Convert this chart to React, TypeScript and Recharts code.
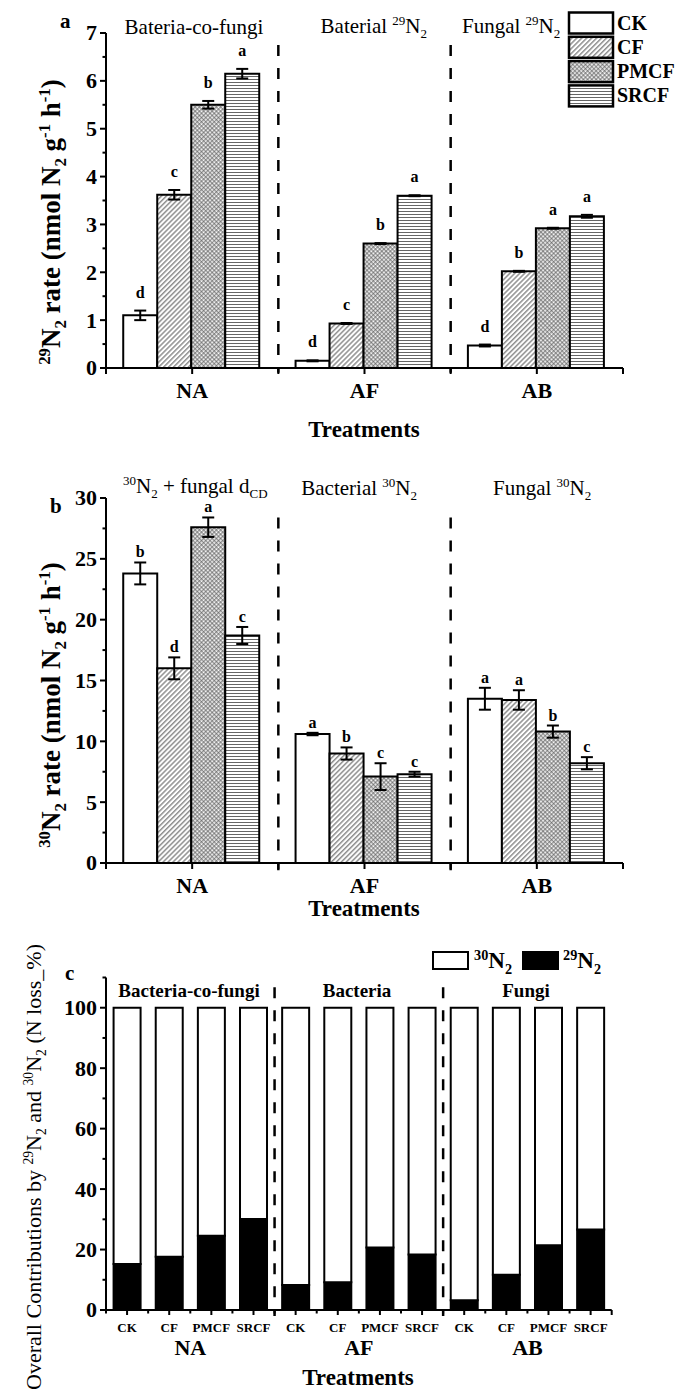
import React from 'react';
import { BarChart, Bar, XAxis, YAxis, ErrorBar, LabelList, ReferenceLine } from 'recharts';

const FONT = '"Liberation Serif", "Times New Roman", serif';

const groups = ['NA', 'AF', 'AB'];
const treatments = ['CK', 'CF', 'PMCF', 'SRCF'];

// Panel a: 29N2 rate
const aCK = [1.1, 0.15, 0.47];
const aCF = [3.62, 0.93, 2.02];
const aPMCF = [5.5, 2.6, 2.92];
const aSRCF = [6.15, 3.6, 3.17];
const aErrCK = [0.1, 0.01, 0.02];
const aErrCF = [0.1, 0.01, 0.01];
const aErrPMCF = [0.08, 0.01, 0.01];
const aErrSRCF = [0.1, 0.01, 0.03];
const aLetCK = ['d', 'd', 'd'];
const aLetCF = ['c', 'c', 'b'];
const aLetPMCF = ['b', 'b', 'a'];
const aLetSRCF = ['a', 'a', 'a'];
const aTicks = [0, 0.5, 1, 1.5, 2, 2.5, 3, 3.5, 4, 4.5, 5, 5.5, 6, 6.5, 7];

// Panel b: 30N2 rate
const bCK = [23.8, 10.6, 13.5];
const bCF = [16.0, 9.0, 13.4];
const bPMCF = [27.6, 7.1, 10.8];
const bSRCF = [18.7, 7.3, 8.2];
const bErrCK = [0.9, 0.1, 0.9];
const bErrCF = [0.9, 0.5, 0.8];
const bErrPMCF = [0.8, 1.1, 0.5];
const bErrSRCF = [0.7, 0.2, 0.5];
const bLetCK = ['b', 'a', 'a'];
const bLetCF = ['d', 'b', 'a'];
const bLetPMCF = ['a', 'c', 'b'];
const bLetSRCF = ['c', 'c', 'c'];
const bTicks = [0, 2.5, 5, 7.5, 10, 12.5, 15, 17.5, 20, 22.5, 25, 27.5, 30];

// Panel c: contributions (%)
const cBarLabels = ['CK', 'CF', 'PMCF', 'SRCF', 'CK', 'CF', 'PMCF', 'SRCF', 'CK', 'CF', 'PMCF', 'SRCF'];
const cN29 = [15.2, 17.6, 24.6, 30.1, 8.3, 9.2, 20.7, 18.4, 3.2, 11.7, 21.4, 26.6];
const cN30 = [84.8, 82.4, 75.4, 69.9, 91.7, 90.8, 79.3, 81.6, 96.8, 88.3, 78.6, 73.4];
const cTicks = [0, 10, 20, 30, 40, 50, 60, 70, 80, 90, 100, 110];
const cGroupTitles = ['Bacteria-co-fungi', 'Bacteria', 'Fungi'];

const fills: Record<string, string> = {
  CK: '#ffffff',
  CF: 'url(#pCF)',
  PMCF: 'url(#pPMCF)',
  SRCF: 'url(#pSRCF)',
};

const aVals: Record<string, number[]> = { CK: aCK, CF: aCF, PMCF: aPMCF, SRCF: aSRCF };
const aErrs: Record<string, number[]> = { CK: aErrCK, CF: aErrCF, PMCF: aErrPMCF, SRCF: aErrSRCF };
const aLets: Record<string, string[]> = { CK: aLetCK, CF: aLetCF, PMCF: aLetPMCF, SRCF: aLetSRCF };
const bVals: Record<string, number[]> = { CK: bCK, CF: bCF, PMCF: bPMCF, SRCF: bSRCF };
const bErrs: Record<string, number[]> = { CK: bErrCK, CF: bErrCF, PMCF: bErrPMCF, SRCF: bErrSRCF };
const bLets: Record<string, string[]> = { CK: bLetCK, CF: bLetCF, PMCF: bLetPMCF, SRCF: bLetSRCF };

const buildRows = (vals: Record<string, number[]>, errs: Record<string, number[]>, lets: Record<string, string[]>) =>
  groups.map((g, i) => {
    const row: any = { grp: g, pos: i + 0.5 };
    treatments.forEach((t) => {
      row[t] = vals[t][i];
      row[t + '_e'] = errs[t][i];
      row[t + '_l'] = lets[t][i];
    });
    return row;
  });

const dataA = buildRows(aVals, aErrs, aLets);
const dataB = buildRows(bVals, bErrs, bLets);
const dataC = cBarLabels.map((l, i) => ({
  id: `${groups[Math.floor(i / 4)]}-${l}`,
  pos: i + 0.5,
  label: l,
  n29: cN29[i],
  n30: cN30[i],
}));

const boundaries = groups.slice(1).map((_, i) => i + 1);

const yTick = (isMajor: (v: number) => boolean, fs: number) => (props: any) => {
  const { x, y, payload } = props;
  const maj = isMajor(payload.value);
  return (
    <g>
      <line x1={x} x2={x - (maj ? 6 : 3.5)} y1={y} y2={y} stroke="#000" strokeWidth={2} />
      {maj && (
        <text x={x - 9} y={y} dy="0.34em" textAnchor="end" fontFamily={FONT} fontWeight="bold" fontSize={fs} fill="#000">
          {payload.value}
        </text>
      )}
    </g>
  );
};

const groupTick = (half: number, fs: number, dyText: number, last: number) => (props: any) => {
  const { x, y, payload, index } = props;
  return (
    <g>
      <line x1={x} x2={x} y1={y} y2={y + 6} stroke="#000" strokeWidth={2} />
      <line x1={x - half} x2={x - half} y1={y} y2={y + 6} stroke="#000" strokeWidth={2} />
      {index === last && <line x1={x + half} x2={x + half} y1={y} y2={y + 6} stroke="#000" strokeWidth={2} />}
      <text x={x} y={y + dyText} textAnchor="middle" fontFamily={FONT} fontWeight="bold" fontSize={fs} fill="#000">
        {payload.value}
      </text>
    </g>
  );
};

const barTick = (half: number) => (props: any) => {
  const { x, y, index } = props;
  return (
    <g>
      <line x1={x} x2={x} y1={y} y2={y + 5} stroke="#000" strokeWidth={2} />
      <line x1={x - half} x2={x - half} y1={y} y2={y + 3.5} stroke="#000" strokeWidth={2} />
      {index === cBarLabels.length - 1 && (
        <line x1={x + half} x2={x + half} y1={y} y2={y + 5} stroke="#000" strokeWidth={2} />
      )}
      <text x={x} y={y + 22} textAnchor="middle" fontFamily={FONT} fontWeight="bold" fontSize={13} fill="#000">
        {cBarLabels[index]}
      </text>
    </g>
  );
};

const cGroupTick = (props: any) => {
  const { x, y, payload } = props;
  return (
    <text x={x} y={y + 23} textAnchor="middle" fontFamily={FONT} fontWeight="bold" fontSize={22} fill="#000">
      {groups[Math.floor(payload.value / 4)]}
    </text>
  );
};

const letterContent = (vals: number[], errs: number[], lift: number) => (props: any) => {
  const vb = props.viewBox || {};
  const x = vb.x ?? props.x;
  const y = vb.y ?? props.y;
  const w = vb.width ?? props.width;
  const h = vb.height ?? props.height;
  const i = props.index ?? 0;
  const ppu = vals[i] ? h / vals[i] : 0;
  const top = y - errs[i] * ppu;
  return (
    <text x={x + w / 2} y={top - lift} textAnchor="middle" fontFamily={FONT} fontWeight="bold" fontSize={16} fill="#000">
      {props.value}
    </text>
  );
};

type Seg = { t: string; s?: 'sup' | 'sub' };
const Rich = ({ segs, fs, ...rest }: { segs: Seg[]; fs: number; [k: string]: any }) => {
  let cur = 0;
  return (
    <text {...rest} fontSize={fs} fontFamily={FONT} fill="#000" style={{ whiteSpace: 'pre' }}>
      {segs.map((sg, i) => {
        const target = sg.s === 'sup' ? -0.36 * fs : sg.s === 'sub' ? 0.24 * fs : 0;
        const dy = target - cur;
        cur = target;
        return (
          <tspan key={i} dy={dy} fontSize={sg.s ? fs * 0.62 : fs}>
            {sg.t}
          </tspan>
        );
      })}
    </text>
  );
};

const dash = { stroke: '#000', strokeWidth: 2.5, strokeDasharray: '11 12' };
const axisLine = { stroke: '#000', strokeWidth: 2 };

const RateChart = ({ data, vals, errs, domainMax, ticks, majorStep, top, plotH, lift, dashTop, dashBottom }: any) => (
  <BarChart
    width={675}
    height={top + plotH + 40 + 20}
    data={data}
    margin={{ top, right: 52, bottom: 20, left: 0 }}
    barCategoryGap="10%"
    barGap={0}
  >
    <XAxis
      dataKey="grp"
      height={40}
      tickSize={0}
      tickMargin={0}
      tickLine={false}
      axisLine={axisLine}
      interval={0}
      tick={groupTick(517 / 6, 22, 30, groups.length - 1)}
    />
    <XAxis xAxisId="n" dataKey="pos" type="number" domain={[0, groups.length]} hide allowDataOverflow />
    <YAxis
      width={106}
      domain={[0, domainMax]}
      ticks={ticks}
      interval={0}
      allowDataOverflow
      tickSize={0}
      tickMargin={0}
      tickLine={false}
      axisLine={axisLine}
      tick={yTick((v: number) => Math.abs(v / majorStep - Math.round(v / majorStep)) < 1e-6, 22)}
    />
    {treatments.map((t) => (
      <Bar key={t} dataKey={t} fill={fills[t]} stroke="#000" strokeWidth={2} isAnimationActive={false}>
        <ErrorBar dataKey={t + '_e'} width={6} stroke="#000" strokeWidth={2} />
        <LabelList dataKey={t + '_l'} content={letterContent(vals[t], errs[t], lift)} />
      </Bar>
    ))}
    {boundaries.map((b) => (
      <ReferenceLine
        key={b}
        xAxisId="n"
        segment={[{ x: b, y: dashTop }, { x: b, y: dashBottom }]}
        ifOverflow="visible"
        {...dash}
      />
    ))}
  </BarChart>
);

const yLabelA: Seg[] = [
  { t: '29', s: 'sup' }, { t: 'N' }, { t: '2', s: 'sub' }, { t: ' rate (nmol N' }, { t: '2', s: 'sub' },
  { t: ' g' }, { t: '-1', s: 'sup' }, { t: ' h' }, { t: '-1', s: 'sup' }, { t: ')' },
];
const yLabelB: Seg[] = [
  { t: '30', s: 'sup' }, { t: 'N' }, { t: '2', s: 'sub' }, { t: ' rate (nmol N' }, { t: '2', s: 'sub' },
  { t: ' g' }, { t: '-1', s: 'sup' }, { t: ' h' }, { t: '-1', s: 'sup' }, { t: ')' },
];
const yLabelC: Seg[] = [
  { t: 'Overall Contributions by ' }, { t: '29', s: 'sup' }, { t: 'N' }, { t: '2', s: 'sub' }, { t: ' and ' },
  { t: '30', s: 'sup' }, { t: 'N' }, { t: '2', s: 'sub' }, { t: ' (N loss_%)' },
];

export default function App() {
  return (
    <div style={{ position: 'absolute', left: 0, top: 0, width: 675, height: 1389, background: '#fff', overflow: 'hidden' }}>
      <div style={{ position: 'absolute', left: 0, top: 0 }}>
        <RateChart data={dataA} vals={aVals} errs={aErrs} domainMax={7} ticks={aTicks} majorStep={1}
          top={33} plotH={335} lift={13} dashTop={6.75} dashBottom={-0.1} />
      </div>
      <div style={{ position: 'absolute', left: 0, top: 440 }}>
        <RateChart data={dataB} vals={bVals} errs={bErrs} domainMax={30} ticks={bTicks} majorStep={5}
          top={58} plotH={365} lift={5} dashTop={28.4} dashBottom={-0.6} />
      </div>
      <div style={{ position: 'absolute', left: 0, top: 900 }}>
        <BarChart
          width={675}
          height={489}
          data={dataC}
          margin={{ top: 77.5, right: 63.3, bottom: 27, left: 0 }}
          barCategoryGap="18%"
          barGap={0}
        >
          <XAxis dataKey="id" height={22} tickSize={0} tickMargin={0} tickLine={false} axisLine={axisLine}
            interval={0} tick={barTick(505.7 / 24)} />
          <XAxis xAxisId="g" dataKey="pos" type="number" domain={[0, cBarLabels.length]}
            ticks={groups.map((_, i) => i * 4 + 2)}
            height={30} tickSize={0} tickMargin={0} tickLine={false} axisLine={false} interval={0}
            allowDataOverflow tick={cGroupTick} />
          <YAxis width={106} domain={[0, 110]} ticks={cTicks} interval={0} allowDataOverflow tickSize={0}
            tickMargin={0} tickLine={false} axisLine={axisLine}
            tick={yTick((v: number) => v % 20 === 0, 22)} />
          <Bar dataKey="n29" stackId="s" fill="#000" stroke="#000" strokeWidth={2} isAnimationActive={false} />
          <Bar dataKey="n30" stackId="s" fill="#fff" stroke="#000" strokeWidth={2} isAnimationActive={false} />
          {[4, 8].map((b) => (
            <ReferenceLine key={b} xAxisId="g" segment={[{ x: b, y: 106.8 }, { x: b, y: -2 }]} ifOverflow="visible" {...dash} />
          ))}
        </BarChart>
      </div>

      <svg width={675} height={1389} style={{ position: 'absolute', left: 0, top: 0, pointerEvents: 'none' }}>
        <defs>
          <pattern id="pCF" patternUnits="userSpaceOnUse" width={3.5} height={3.5} patternTransform="rotate(45)">
            <rect width={3.5} height={3.5} fill="#fff" />
            <line x1={0.8} y1={0} x2={0.8} y2={3.5} stroke="#444" strokeWidth={0.9} />
          </pattern>
          <pattern id="pPMCF" patternUnits="userSpaceOnUse" width={3} height={3} patternTransform="rotate(45)">
            <rect width={3} height={3} fill="#fff" />
            <line x1={0.75} y1={0} x2={0.75} y2={3} stroke="#555" strokeWidth={0.8} />
            <line x1={0} y1={0.75} x2={3} y2={0.75} stroke="#555" strokeWidth={0.8} />
          </pattern>
          <pattern id="pSRCF" patternUnits="userSpaceOnUse" width={4} height={3}>
            <rect width={4} height={3} fill="#fff" />
            <line x1={0} y1={1.5} x2={4} y2={1.5} stroke="#555" strokeWidth={0.9} />
          </pattern>
        </defs>

        {/* Panel a */}
        <text x={60} y={28} fontFamily={FONT} fontWeight="bold" fontSize={21}>a</text>
        <text x={194} y={34} textAnchor="middle" fontFamily={FONT} fontSize={21}>Bateria-co-fungi</text>
        <Rich segs={[{ t: 'Baterial ' }, { t: '29', s: 'sup' }, { t: 'N' }, { t: '2', s: 'sub' }]} fs={21} x={427} y={33} textAnchor="end" />
        <Rich segs={[{ t: 'Fungal ' }, { t: '29', s: 'sup' }, { t: 'N' }, { t: '2', s: 'sub' }]} fs={21} x={462} y={33} />
        {treatments.map((t, i) => (
          <g key={t}>
            <rect x={569} y={12.5 + i * 24.3} width={44} height={21} fill={fills[t]} stroke="#000" strokeWidth={2.5} />
            <text x={617} y={29.5 + i * 24.3} fontFamily={FONT} fontWeight="bold" fontSize={20}>{t}</text>
          </g>
        ))}
        <Rich segs={yLabelA} fs={27} fontWeight="bold" textAnchor="middle" transform="translate(60,222) rotate(-90)" />
        <text x={364} y={437} textAnchor="middle" fontFamily={FONT} fontWeight="bold" fontSize={23}>Treatments</text>

        {/* Panel b */}
        <text x={50} y={513} fontFamily={FONT} fontWeight="bold" fontSize={21}>b</text>
        <Rich segs={[{ t: '30', s: 'sup' }, { t: 'N' }, { t: '2', s: 'sub' }, { t: ' + fungal d' }, { t: 'CD', s: 'sub' }]} fs={21} x={123} y={493} />
        <Rich segs={[{ t: 'Bacterial ' }, { t: '30', s: 'sup' }, { t: 'N' }, { t: '2', s: 'sub' }]} fs={21} x={417} y={495} textAnchor="end" />
        <Rich segs={[{ t: 'Fungal ' }, { t: '30', s: 'sup' }, { t: 'N' }, { t: '2', s: 'sub' }]} fs={21} x={493} y={495} />
        <Rich segs={yLabelB} fs={27} fontWeight="bold" textAnchor="middle" transform="translate(60,705) rotate(-90)" />
        <text x={364} y={916} textAnchor="middle" fontFamily={FONT} fontWeight="bold" fontSize={23}>Treatments</text>

        {/* Panel c */}
        <text x={65} y={980} fontFamily={FONT} fontWeight="bold" fontSize={21}>c</text>
        <rect x={433} y={952} width={35} height={17} fill="#fff" stroke="#000" strokeWidth={2} />
        <Rich segs={[{ t: '30', s: 'sup' }, { t: 'N' }, { t: '2', s: 'sub' }]} fs={23} fontWeight="bold" x={474} y={968} />
        <rect x={523} y={952} width={35} height={17} fill="#000" stroke="#000" strokeWidth={2} />
        <Rich segs={[{ t: '29', s: 'sup' }, { t: 'N' }, { t: '2', s: 'sub' }]} fs={23} fontWeight="bold" x={563} y={968} />
        <text x={189} y={997} textAnchor="middle" fontFamily={FONT} fontWeight="bold" fontSize={19}>{cGroupTitles[0]}</text>
        <text x={357} y={997} textAnchor="middle" fontFamily={FONT} fontWeight="bold" fontSize={19}>{cGroupTitles[1]}</text>
        <text x={526} y={997} textAnchor="middle" fontFamily={FONT} fontWeight="bold" fontSize={19}>{cGroupTitles[2]}</text>
        <Rich segs={yLabelC} fs={22} textAnchor="middle" transform="translate(41,1167) rotate(-90)" />
        <text x={358} y={1385} textAnchor="middle" fontFamily={FONT} fontWeight="bold" fontSize={23}>Treatments</text>
      </svg>
    </div>
  );
}
